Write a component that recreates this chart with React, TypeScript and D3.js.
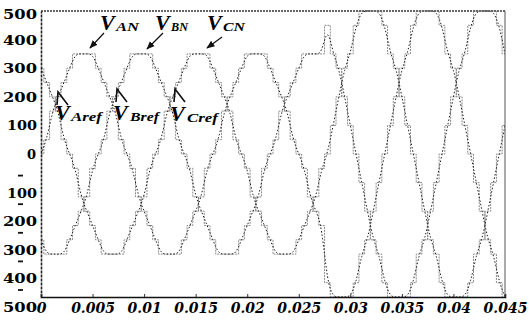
import React, { useEffect, useRef } from "react";
import * as d3 from "d3";

// one sample every 1/1800 s (12 electrical degrees at 60 Hz), t = 0 .. 0.045 s
const sampleStep = 1 / 1800;

// phase voltages (V), staircase levels
const vAN = [
  0, 50, 150, 200, 250, 300, 350, 350, 350, 350, 300, 250, 200, 150, 50, 0, -50, -150, -200, -250,
  -300, -350, -350, -350, -350, -300, -250, -200, -150, -50,
  0, 50, 150, 200, 250, 300, 350, 350, 350, 350, 300, 250, 200, 150, 50, 0, -50, -150, -200, -250,
  -450, -500, -500, -500, -500, -450, -350, -300, -200, -100,
  0, 100, 200, 300, 350, 450, 500, 500, 500, 500, 450, 350, 300, 200, 100, 0, -100, -200, -300, -350,
  -450, -500,
];
const vBN = [
  -300, -350, -350, -350, -350, -300, -250, -200, -150, -50,
  0, 50, 150, 200, 250, 300, 350, 350, 350, 350, 300, 250, 200, 150, 50, 0, -50, -150, -200, -250,
  -300, -350, -350, -350, -350, -300, -250, -200, -150, -50,
  0, 50, 150, 200, 250, 300, 350, 350, 350, 350,
  450, 350, 300, 200, 100, 0, -100, -200, -300, -350, -450, -500, -500, -500, -500, -450, -350, -300, -200, -100,
  0, 100, 200, 300, 350, 450, 500, 500, 500, 500, 450, 350,
];
const vCN = [
  300, 250, 200, 150, 50, 0, -50, -150, -200, -250, -300, -350, -350, -350, -350, -300, -250, -200, -150, -50,
  0, 50, 150, 200, 250, 300, 350, 350, 350, 350, 300, 250, 200, 150, 50, 0, -50, -150, -200, -250,
  -300, -350, -350, -350, -350, -300, -250, -200, -150, -50,
  0, 100, 200, 300, 350, 450, 500, 500, 500, 500, 450, 350, 300, 200, 100, 0, -100, -200, -300, -350,
  -450, -500, -500, -500, -500, -450, -350, -300, -200, -100,
  0, 100,
];

const xTicks = [0, 0.005, 0.01, 0.015, 0.02, 0.025, 0.03, 0.035, 0.04, 0.045];
const xTickLabels = ["0", "0.005", "0.01", "0.015", "0.02", "0.025", "0.03", "0.035", "0.04", "0.045"];
const yTicks = [500, 400, 300, 200, 100, 0, -100, -200, -300, -400, -500];

const App = () => {
  const svgRef = useRef<SVGSVGElement>(null);

  useEffect(() => {
    const svg = d3.select(svgRef.current);
    svg.selectAll("*").remove();

    const plot = { left: 41, right: 505, top: 11, bottom: 297 };
    const x = d3.scaleLinear().domain([0, 0.045]).range([plot.left, plot.right]);
    const y = d3.scaleLinear().domain([-500, 500]).range([plot.bottom, plot.top]);

    const defs = svg.append("defs");
    defs
      .append("clipPath")
      .attr("id", "plotClip")
      .append("rect")
      .attr("x", plot.left)
      .attr("y", plot.top - 1)
      .attr("width", plot.right - plot.left)
      .attr("height", plot.bottom - plot.top + 2);
    defs
      .append("marker")
      .attr("id", "head")
      .attr("viewBox", "0 0 10 10")
      .attr("refX", 9)
      .attr("refY", 5)
      .attr("markerWidth", 7)
      .attr("markerHeight", 7)
      .attr("orient", "auto")
      .append("path")
      .attr("d", "M0,1 L10,5 L0,9 Z")
      .attr("fill", "#111");

    const lines = svg.append("g").attr("clip-path", "url(#plotClip)");

    const step = d3
      .line<number>()
      .x((_, i) => x(i * sampleStep))
      .y((d) => y(d))
      .curve(d3.curveStep);
    const smooth = d3
      .line<number>()
      .x((_, i) => x(i * sampleStep))
      .y((d) => y(d))
      .curve(d3.curveBasis);

    [vAN, vBN, vCN].forEach((series) => {
      lines
        .append("path")
        .attr("d", step(series))
        .attr("fill", "none")
        .attr("stroke", "#8a8a8a")
        .attr("stroke-width", 1)
        .attr("stroke-dasharray", "2 1");
      lines
        .append("path")
        .attr("d", smooth(series))
        .attr("fill", "none")
        .attr("stroke", "#1a1a1a")
        .attr("stroke-width", 1)
        .attr("stroke-dasharray", "1.5 2");
    });

    // frame
    svg
      .append("line")
      .attr("x1", plot.left).attr("x2", plot.right)
      .attr("y1", plot.top).attr("y2", plot.top)
      .attr("stroke", "#666").attr("stroke-width", 2).attr("stroke-dasharray", "2 1");
    svg
      .append("line")
      .attr("x1", plot.right).attr("x2", plot.right)
      .attr("y1", plot.top).attr("y2", plot.bottom)
      .attr("stroke", "#555").attr("stroke-width", 1);

    // x axis
    const xAxis = svg
      .append("g")
      .attr("transform", `translate(0,${plot.bottom})`)
      .call(
        d3
          .axisBottom(x)
          .tickValues(xTicks)
          .tickSize(-3)
          .tickFormat((_, i) => xTickLabels[i])
      );
    xAxis.select(".domain").attr("stroke", "#111").attr("stroke-width", 1.6);
    xAxis.selectAll(".tick line").attr("stroke", "#333");
    xAxis
      .selectAll("text")
      .attr("y", 16)
      .attr("dy", 0)
      .attr("fill", "#000")
      .style("font-family", "'DejaVu Serif', serif")
      .style("font-style", "italic")
      .style("font-weight", "bold")
      .style("font-size", "14px");

    // y axis
    const yAxis = svg
      .append("g")
      .attr("transform", `translate(${plot.left},0)`)
      .call(
        d3
          .axisLeft(y)
          .tickValues(yTicks)
          .tickSize(0)
          .tickFormat((d) => String(Math.abs(+d)))
      );
    yAxis.select(".domain").attr("stroke", "#222").attr("stroke-width", 1.6).attr("stroke-dasharray", "3 1");
    yAxis
      .selectAll<SVGTextElement, number>("text")
      .attr("x", (d) => (d === 0 ? -5 : -4))
      .attr("dy", (d) => (d < 0 ? "10px" : d === 500 ? "3px" : "0px"))
      .attr("dominant-baseline", "central")
      .attr("fill", "#000")
      .attr("textLength", (d) => (d === 0 ? null : Math.abs(d) === 100 ? 30 : 34))
      .attr("lengthAdjust", "spacingAndGlyphs")
      .style("font-family", "'DejaVu Serif', serif")
      .style("font-weight", "bold")
      .style("font-size", "13px");
    // detached minus signs sit above the negative labels
    yAxis
      .selectAll(".tick")
      .filter((d) => (d as number) < 0)
      .append("line")
      .attr("x1", -23)
      .attr("x2", -18)
      .attr("y1", -7.5)
      .attr("y2", -7.5)
      .attr("stroke", "#111")
      .attr("stroke-width", 1.8);

    // annotations
    const ann = svg
      .append("g")
      .style("font-family", "'Liberation Serif', serif")
      .style("font-weight", "bold")
      .style("font-style", "italic")
      .attr("fill", "#000");
    const addLabel = (vx: number, vy: number, sub: string, sx: number, sw: number, subSize: number, vSize = 22) => {
      ann.append("text").attr("x", vx).attr("y", vy).style("font-size", `${vSize}px`).text("V");
      ann
        .append("text")
        .attr("x", sx)
        .attr("y", vy + 1)
        .attr("textLength", sw)
        .attr("lengthAdjust", "spacingAndGlyphs")
        .style("font-size", `${subSize}px`)
        .text(sub);
    };
    addLabel(100, 30, "AN", 116, 23, 12);
    addLabel(155, 30, "BN", 171, 17, 12);
    addLabel(207, 30, "CN", 223, 22, 12);
    addLabel(55, 120, "Aref", 71, 31, 13);
    addLabel(113, 120, "Bref", 130, 29, 13);
    addLabel(170, 121, "Cref", 187, 31, 13);

    const arrows = [
      [104, 33, 90, 48],
      [163, 33, 147, 49],
      [222, 37, 207, 48],
    ];
    arrows.forEach(([x1, y1, x2, y2]) => {
      svg
        .append("line")
        .attr("x1", x1).attr("y1", y1).attr("x2", x2).attr("y2", y2)
        .attr("stroke", "#111").attr("stroke-width", 1.2)
        .attr("marker-end", "url(#head)");
    });

    const pointers = [
      [58, 92],
      [117, 89],
      [175, 89],
    ];
    pointers.forEach(([px, py]) => {
      svg
        .append("path")
        .attr("d", `M${px + 10},${py + 13} L${px},${py} L${px - 1},${py + 13}`)
        .attr("fill", "none")
        .attr("stroke", "#111")
        .attr("stroke-width", 1.6);
    });
  }, []);

  return (
    <svg
      ref={svgRef}
      width={529}
      height={320}
      style={{ position: "absolute", left: 0, top: 0, background: "#fff" }}
    ></svg>
  );
};

export default App;
